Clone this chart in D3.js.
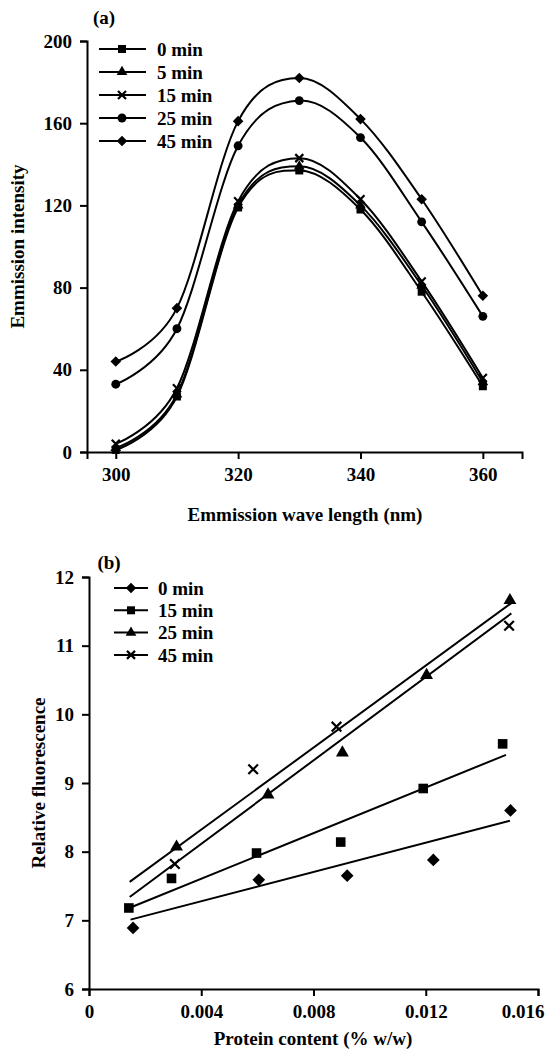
<!DOCTYPE html>
<html lang="en">
<head>
    <meta charset="UTF-8">
    <title>Emission spectra and relative fluorescence</title>
    <script src="https://cdn.jsdelivr.net/npm/d3@7"></script>
    <style>
        body { margin: 0; background: #fff; }
        text { font-family: "Liberation Serif", "Times New Roman", serif; font-weight: bold; fill: #000; }
        .axis path, .axis line { stroke: #000; stroke-width: 2; }
        .axis text { font-size: 19px; }
    </style>
</head>
<body>
<svg id="chart" width="545" height="1052"></svg>
<script>
    // (a) emission spectra
    var waveLength = [300, 310, 320, 330, 340, 350, 360]
    var intensity0 = [1, 27, 119, 137, 118, 78, 32]
    var intensity5 = [2, 28, 120, 139, 120, 81, 34]
    var intensity15 = [4, 31, 122, 143, 123, 83, 36]
    var intensity25 = [33, 60, 149, 171, 153, 112, 66]
    var intensity45 = [44, 70, 161, 182, 162, 123, 76]
    var seriesA = ['0 min', '5 min', '15 min', '25 min', '45 min']
    var ticksA_x = [300, 320, 340, 360]
    var ticksA_y = [0, 40, 80, 120, 160, 200]

    // (b) relative fluorescence vs protein content
    var protein0 = [0.00157, 0.00605, 0.0092, 0.01227, 0.01502]
    var fluor0 = [6.89, 7.59, 7.65, 7.88, 8.60]
    var protein15 = [0.00142, 0.00294, 0.00597, 0.00897, 0.01191, 0.01474]
    var fluor15 = [7.18, 7.61, 7.98, 8.14, 8.92, 9.57]
    var protein25 = [0.00312, 0.00638, 0.00903, 0.01203, 0.0150]
    var fluor25 = [8.07, 8.83, 9.44, 10.57, 11.66]
    var protein45 = [0.00306, 0.00585, 0.00882, 0.01497]
    var fluor45 = [7.82, 9.20, 9.82, 11.29]
    // trend lines: [x0, x1], [y0, y1]
    var trendX0 = [0.00148, 0.0150], trendY0 = [7.01, 8.45]
    var trendX15 = [0.0015, 0.01486], trendY15 = [7.19, 9.41]
    var trendX25 = [0.00145, 0.01505], trendY25 = [7.56, 11.62]
    var trendX45 = [0.00145, 0.01505], trendY45 = [7.34, 11.47]
    var seriesB = ['0 min', '15 min', '25 min', '45 min']
    var ticksB_x = [0, 0.004, 0.008, 0.012, 0.016]
    var ticksB_y = [6, 7, 8, 9, 10, 11, 12]

    var svg = d3.select('#chart')
    var FS = '19px'

    // marker drawing
    function marker (g, kind, x, y, big) {
        var k = big ? 1.2 : 1
        if (kind === 'x') {
            var r = 4 * k
            g.append('path')
              .attr('d', 'M' + (x - r) + ',' + (y - r) + 'L' + (x + r) + ',' + (y + r) + 'M' + (x - r) + ',' + (y + r) + 'L' + (x + r) + ',' + (y - r))
              .attr('stroke', '#000').attr('stroke-width', 2.2).attr('fill', 'none')
            return
        }
        var sym, size, rot = 0
        if (kind === 'square') { sym = d3.symbolSquare; size = 64 * k * k }
        if (kind === 'triangle') { sym = d3.symbolTriangle; size = 50 * k * k }
        if (kind === 'circle') { sym = d3.symbolCircle; size = 62 * k * k }
        if (kind === 'diamond') { sym = d3.symbolSquare; size = 56 * k * k; rot = 45 }
        g.append('path')
          .attr('d', d3.symbol().type(sym).size(size)())
          .attr('transform', 'translate(' + x + ',' + y + ') rotate(' + rot + ')')
          .attr('fill', '#000')
    }

    // ---------- chart (a) ----------
    var xA = d3.scaleLinear().domain([295.3, 366.4]).range([87, 522])
    var yA = d3.scaleLinear().domain([0, 200]).range([452, 41])
    var gA = svg.append('g')

    gA.append('g').attr('class', 'axis')
      .attr('transform', 'translate(0,' + yA(0) + ')')
      .call(d3.axisBottom(xA).tickValues(ticksA_x).tickSize(7).tickPadding(9))
    gA.append('g').attr('class', 'axis')
      .attr('transform', 'translate(' + xA.range()[0] + ',0)')
      .call(d3.axisLeft(yA).tickValues(ticksA_y).tickSize(7).tickPadding(8))

    var valuesA = [intensity0, intensity5, intensity15, intensity25, intensity45]
    var markA = ['square', 'triangle', 'x', 'circle', 'diamond']
    var lineA = d3.line()
      .x(function (d, i) { return xA(waveLength[i]) })
      .y(function (d) { return yA(d) })
      .curve(d3.curveCatmullRom.alpha(0))

    valuesA.forEach(function (vals, s) {
        gA.append('path').attr('d', lineA(vals))
          .attr('fill', 'none').attr('stroke', '#000').attr('stroke-width', 2)
        vals.forEach(function (v, i) { marker(gA, markA[s], xA(waveLength[i]), yA(v)) })
    })

    seriesA.forEach(function (name, s) {
        var ly = 49 + s * 23
        gA.append('line').attr('x1', 99).attr('x2', 146).attr('y1', ly).attr('y2', ly)
          .attr('stroke', '#000').attr('stroke-width', 2)
        marker(gA, markA[s], 122, ly)
        gA.append('text').attr('x', 157).attr('y', ly).attr('dy', '0.35em')
          .style('font-size', FS).text(name)
    })

    gA.append('text').attr('x', 104).attr('y', 17).attr('dy', '0.35em')
      .attr('text-anchor', 'middle').style('font-size', FS).text('(a)')
    gA.append('text').attr('transform', 'translate(17,' + (yA(100)) + ') rotate(-90)')
      .attr('dy', '0.35em').attr('text-anchor', 'middle').style('font-size', FS).text('Emmission intensity')
    gA.append('text').attr('x', 305).attr('y', 514).attr('dy', '0.35em')
      .attr('text-anchor', 'middle').style('font-size', FS).text('Emmission wave length (nm)')

    // ---------- chart (b) ----------
    var xB = d3.scaleLinear().domain([0, 0.016]).range([89, 538])
    var yB = d3.scaleLinear().domain([6, 12]).range([989, 577])
    var gB = svg.append('g')

    var xAxisB = gB.append('g').attr('class', 'axis')
      .attr('transform', 'translate(0,' + yB(6) + ')')
      .call(d3.axisBottom(xB).tickValues(ticksB_x).tickSize(7).tickPadding(9)
        .tickFormat(function (d) { return d === 0 ? '0' : d3.format('.3f')(d) }))
    // last label pulled inside the page, as in the original
    xAxisB.selectAll('.tick text').filter(function (d) { return d === 0.016 })
      .attr('text-anchor', 'end').attr('x', 6)
    gB.append('g').attr('class', 'axis')
      .attr('transform', 'translate(' + xB(0) + ',0)')
      .call(d3.axisLeft(yB).tickValues(ticksB_y).tickSize(7).tickPadding(8).tickFormat(d3.format('d')))

    var pointsB = [[protein0, fluor0], [protein15, fluor15], [protein25, fluor25], [protein45, fluor45]]
    var trendsB = [[trendX0, trendY0], [trendX15, trendY15], [trendX25, trendY25], [trendX45, trendY45]]
    var markB = ['diamond', 'square', 'triangle', 'x']
    var trendLine = d3.line()
      .x(function (d) { return xB(d[0]) })
      .y(function (d) { return yB(d[1]) })

    trendsB.forEach(function (t) {
        gB.append('path').attr('d', trendLine(d3.zip(t[0], t[1])))
          .attr('fill', 'none').attr('stroke', '#000').attr('stroke-width', 2)
    })
    pointsB.forEach(function (p, s) {
        p[0].forEach(function (xv, i) { marker(gB, markB[s], xB(xv), yB(p[1][i]), true) })
    })

    seriesB.forEach(function (name, s) {
        var ly = 588 + s * 22.3
        gB.append('line').attr('x1', 114).attr('x2', 148).attr('y1', ly).attr('y2', ly)
          .attr('stroke', '#000').attr('stroke-width', 2)
        marker(gB, markB[s], 131, ly)
        gB.append('text').attr('x', 158).attr('y', ly).attr('dy', '0.35em')
          .style('font-size', FS).text(name)
    })

    gB.append('text').attr('x', 109).attr('y', 562).attr('dy', '0.35em')
      .attr('text-anchor', 'middle').style('font-size', FS).text('(b)')
    gB.append('text').attr('transform', 'translate(38,' + yB(9) + ') rotate(-90)')
      .attr('dy', '0.35em').attr('text-anchor', 'middle').style('font-size', FS).text('Relative fluorescence')
    gB.append('text').attr('x', 313).attr('y', 1038).attr('dy', '0.35em')
      .attr('text-anchor', 'middle').style('font-size', FS).text('Protein content (% w/w)')
</script>
</body>
</html>
